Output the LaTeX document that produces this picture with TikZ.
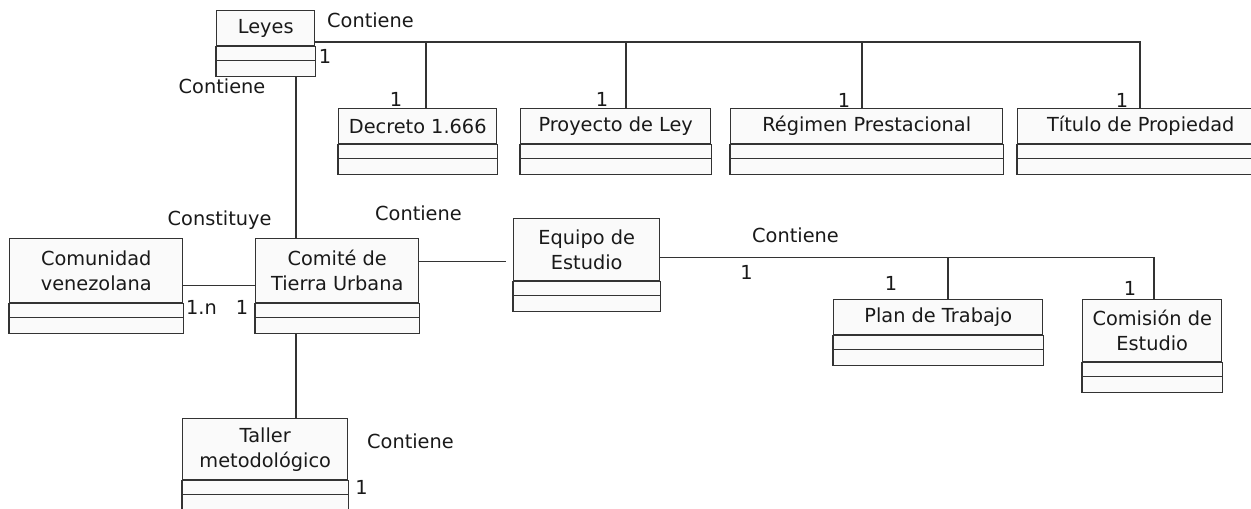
\documentclass[tikz,border=0pt]{standalone}
\usepackage{fontspec}
\setmainfont{DejaVu Sans}
\usetikzlibrary{calc}
\definecolor{umlL}{RGB}{51,51,51}
\definecolor{umlF}{RGB}{250,250,250}
\definecolor{umlT}{RGB}{25,25,25}
\newcommand{\umlfont}{\fontsize{14.5}{18.8}\selectfont}

\begin{document}
\begin{tikzpicture}[x=0.75pt,y=-0.75pt,line width=1.1pt,
  cab/.style={draw=umlL,fill=umlF,text=umlT,anchor=north west,inner sep=0pt,align=center,font=\umlfont},
  lin/.style={draw=umlL},
  rol/.style={font=\umlfont,text=umlT,inner sep=0pt,anchor=base},
  rel/.style={font=\umlfont,text=umlT,inner sep=0pt,anchor=base west}]
\clip (0,0) rectangle (1251,508);
% clases: nombre/x/y/ancho/alto cabecera/texto
\foreach \n/\x/\y/\w/\h/\t in {leyes/216/10/98/35/Leyes,
    decreto/338/108/158/35/{Decreto 1.666},
    proyecto/520/108/190/35/{Proyecto de Ley},
    regimen/730/108/272/35/{Régimen Prestacional},
    titulo/1017/108/246/35/{Título de Propiedad},
    comunidad/9/238/173/64/{Comunidad\\venezolana},
    comite/255/238/163/64/{Comité de\\Tierra Urbana},
    equipo/513/218/146/62/{Equipo de\\Estudio},
    plan/833/299/209/35/{Plan de Trabajo},
    comision/1082/299/139/62/{Comisión de\\Estudio},
    taller/182/418/165/61/{Taller\\metodológico}}{
  \node[cab,minimum width=\w*0.75pt,minimum height=\h*0.75pt] (\n) at (\x,\y) {\t};
  \draw[lin,fill=umlF] (\n.south west) rectangle ($(\n.south east)+(0,14)$);
  \draw[lin,fill=umlF] ($(\n.south west)+(0,14)$) rectangle ($(\n.south east)+(0,30)$);
}
% Leyes contiene
\coordinate (bus1) at (0,42);
\foreach \n/\d in {decreto/88,proyecto/106,regimen/132,titulo/123}
  \draw[lin] (leyes.east |- bus1) -| ($(\n.north west)+(\d,0)$);
\coordinate (eje) at (296,0);
\draw[lin] ($(leyes.south -| eje)+(0,30)$) -- (comite.north -| eje);
\draw[lin] ($(comite.south -| eje)+(0,30)$) -- (taller.north -| eje);
\draw[lin] ($(comunidad.east)+(0,15)$) -- ($(comite.west)+(0,15)$);
\coordinate (c1) at ($(comite.east)+(0,-9)$);
\draw[lin,shorten >=5pt] (c1) -- (c1 -| equipo.west);
% Equipo contiene
\coordinate (bus2) at ($(equipo.east)+(0,8)$);
\foreach \n/\d in {plan/115,comision/72}
  \draw[lin] (bus2) -| ($(\n.north west)+(\d,0)$);
% multiplicidades
\node[rol] (m1) at ($(leyes.north east)+(9.5,53)$) {1};
\foreach \n/\dx/\dy in {decreto/58/-2,proyecto/82/-2,regimen/114/-1,titulo/105/-1,plan/58/-9,comision/48/-4}
  \node[rol] (m-\n) at ($(\n.north west)+(\dx,\dy)$) {1};
\node[rel] (m2) at ($(comunidad.north east)+(2,76)$) {1.n};
\node[rol] (m3) at ($(comite.north west)+(-13,76)$) {1};
\node[rol] (m4) at ($(equipo.north east)+(86,61)$) {1};
\node[rol] (m5) at ($(taller.north east)+(13,76)$) {1};
% nombres de las relaciones
\node[rel] (r1) at ($(leyes.north east)+(11,17)$) {Contiene};
\node[rel] (r2) at ($(leyes.south west)+(-38,47)$) {Contiene};
\node[rel] (r3) at ($(comite.north west)+(-88,-13)$) {Constituye};
\node[rel] (r4) at ($(comite.north east)+(-45,-18)$) {Contiene};
\node[rel] (r5) at ($(equipo.north east)+(91,24)$) {Contiene};
\node[rel] (r6) at ($(taller.north east)+(18,30)$) {Contiene};
\end{tikzpicture}
\end{document}
